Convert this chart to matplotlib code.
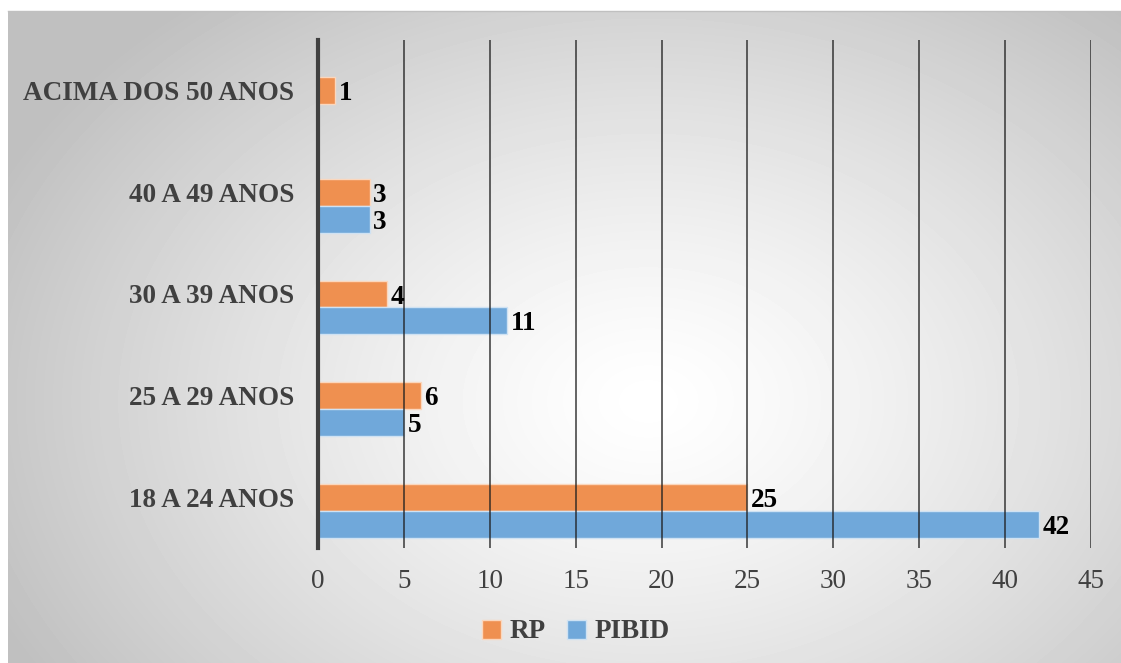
import numpy as np
import matplotlib
matplotlib.use("Agg")
from matplotlib import pyplot as plt

categories = ["18 A 24 ANOS", "25 A 29 ANOS", "30 A 39 ANOS", "40 A 49 ANOS", "ACIMA DOS 50 ANOS"]
rp = [25, 6, 4, 3, 1]
pibid = [42, 5, 11, 3, 0]
xticks = [0, 5, 10, 15, 20, 25, 30, 35, 40, 45]

ORANGE = "#ef9050"
BLUE = "#70a8da"
TEXT = "#404040"
SERIF = ["Liberation Serif", "DejaVu Serif"]
FS = 19.5

W, H = 1121, 663
fig = plt.figure(figsize=(W / 100, H / 100), dpi=100)
fig.patch.set_facecolor("white")

# radial grey-to-white backdrop behind the plot
bx0, by1 = 8 / W, 1 - 11 / H
bg = fig.add_axes([bx0, 0, 1 - bx0, by1], zorder=0)
gy, gx = np.mgrid[0:652, 0:1113]
r = np.hypot((gx - 640) / 720, (gy - 390) / 520)
shade = 1 - 0.25 * np.clip(r, 0, 1) ** 1.3
bg.imshow(shade, cmap="gray", vmin=0, vmax=1, aspect="auto", interpolation="bilinear")
bg.axis("off")
fig.add_artist(plt.Line2D([bx0, 1], [by1, by1], color="#c0c0c0", lw=1))

ax = fig.add_axes([318 / W, 1 - 548 / H, (1091 - 318) / W, (548 - 40) / H], zorder=1)
ax.set_facecolor("none")

y = np.arange(len(categories))
h = 0.265
b_rp = ax.barh(y, rp, height=h, color=ORANGE, edgecolor="#fbd7bd", linewidth=1, label="RP", zorder=2)
b_pb = ax.barh(y - h, pibid, height=h, color=BLUE, edgecolor="#cfe2f3", linewidth=1, label="PIBID", zorder=2)

for bars, vals in ((b_rp, rp), (b_pb, pibid)):
    for bar, v in zip(bars, vals):
        if v == 0:
            continue
        ax.text(bar.get_width() + 0.2, bar.get_y() + bar.get_height() / 2 - 0.03, str(v),
                ha="left", va="center", fontsize=FS, fontweight="bold",
                family=SERIF, color="black", zorder=4)

ax.set_xlim(0, 45)
ax.set_ylim(-0.5, 4.5)
ax.set_xticks(xticks)
ax.set_xticklabels([str(t) for t in xticks], family=SERIF, fontsize=FS, color=TEXT)
ax.set_yticks(y)
ax.set_yticklabels(categories, family=SERIF, fontsize=FS, fontweight="bold", color=TEXT)
ax.tick_params(axis="both", length=0)
ax.tick_params(axis="x", pad=15)
ax.tick_params(axis="y", pad=17)

for t in xticks[1:]:
    ax.axvline(t, color="#202020", lw=1.3, alpha=0.75, zorder=3)
for s in ("top", "right", "bottom"):
    ax.spines[s].set_visible(False)
ax.spines["left"].set_color("#404040")
ax.spines["left"].set_linewidth(3)
ax.spines["left"].set_zorder(5)

leg = fig.legend(handles=[b_rp, b_pb], loc="center", bbox_to_anchor=(576 / W, 1 - 632 / H),
                 ncol=2, frameon=False, handlelength=0.7, handleheight=0.7,
                 handletextpad=0.3, columnspacing=0.8,
                 prop={"family": SERIF, "size": FS, "weight": "bold"})
for t in leg.get_texts():
    t.set_color(TEXT)

fig.savefig("out.png", dpi=100)
